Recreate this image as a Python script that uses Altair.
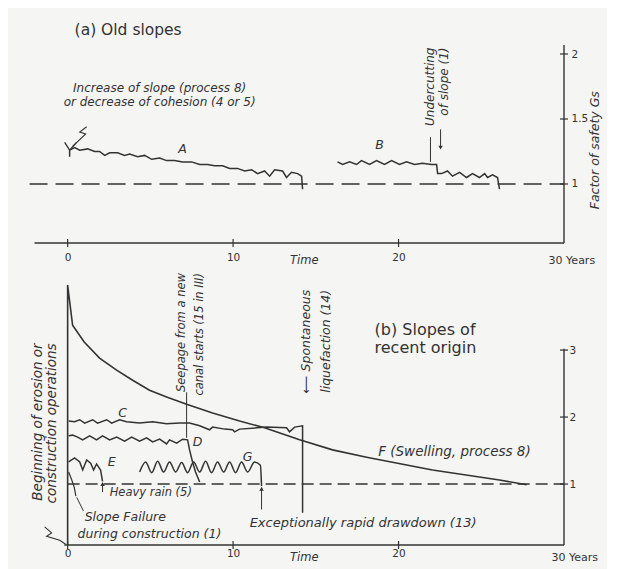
import altair as alt
import pandas as pd

INK = "#333333"
BG = "#f5f5f3"
FONT = "DejaVu Sans"

# ---------------- data: (a) old slopes ----------------
A_T = [0.12, 0.12, 0.42, 0.73, 1.21, 1.63, 1.93, 2.24, 2.54, 3.02, 3.44, 3.75, 4.23, 4.65, 5.08,
       5.56, 5.98, 6.47, 6.95, 7.49, 7.98, 8.46, 8.88, 9.37, 9.79, 10.27, 10.70, 11.12, 11.48, 11.90,
       12.21, 12.51, 12.99, 13.23, 13.53, 13.90, 14.14, 14.20]
A_V = [1.21, 1.26, 1.28, 1.26, 1.27, 1.25, 1.25, 1.22, 1.24, 1.24, 1.22, 1.23, 1.21, 1.22, 1.19,
       1.20, 1.18, 1.18, 1.17, 1.17, 1.15, 1.15, 1.14, 1.14, 1.12, 1.12, 1.10, 1.11, 1.08, 1.10,
       1.06, 1.11, 1.10, 1.05, 1.09, 1.08, 1.06, 0.96]
B_T = [16.31, 16.62, 17.04, 17.46, 17.76, 18.25, 18.67, 19.15, 19.58, 20.06, 20.48, 20.97, 21.45, 21.99,
       22.30, 22.36, 22.60, 22.96, 23.26, 23.69, 24.11, 24.47, 24.89, 25.20, 25.38, 25.68, 25.98, 26.10]
B_V = [1.17, 1.15, 1.17, 1.15, 1.18, 1.15, 1.18, 1.15, 1.18, 1.15, 1.17, 1.15, 1.16, 1.15,
       1.15, 1.08, 1.08, 1.10, 1.06, 1.09, 1.05, 1.08, 1.05, 1.08, 1.05, 1.07, 1.05, 0.96]
Y_T = [-0.18, 0.12, 0.54]          # arrow head at start of A
Y_V = [1.32, 1.26, 1.32]
Z_T = [1.15, 0.73, 1.09, 0.30]     # zig-zag leader
Z_V = [1.44, 1.40, 1.385, 1.29]
TOP_YTICKS = [1, 1.5, 2]
XTICKS = [0, 10, 20]
TOP_DOMAIN = [0.546, 2.277]

# ---------------- data: (b) slopes of recent origin ----------------
F_T = [0.0, 0.0, 0.30, 1.00, 1.93, 2.96, 3.93, 4.95, 5.98, 7.19, 8.76, 10.39, 11.90, 14.02, 16.01,
       18.07, 22.05, 26.10, 27.74]
F_V = [0.09, 3.97, 3.37, 3.12, 2.88, 2.70, 2.55, 2.40, 2.30, 2.19, 2.06, 1.94, 1.84, 1.66, 1.51,
       1.40, 1.21, 1.06, 0.99]
C_T = [0.06, 0.42, 0.73, 1.03, 1.51, 1.81, 2.36, 2.66, 3.14, 3.56, 4.35, 5.14, 5.98, 6.77, 7.37,
       7.98, 8.58, 8.76, 9.49, 9.97, 10.09, 10.39, 12.02, 13.23, 13.41, 13.72, 14.20, 14.20]
C_V = [1.94, 1.93, 1.96, 1.91, 1.96, 1.91, 1.96, 1.91, 1.96, 1.93, 1.91, 1.93, 1.90, 1.91, 1.91,
       1.87, 1.81, 1.85, 1.82, 1.81, 1.78, 1.82, 1.85, 1.84, 1.78, 1.85, 1.87, 0.57]
D_T = [0.06, 0.30, 0.60, 0.91, 1.33, 1.75, 2.11, 2.54, 2.96, 3.44, 3.87, 4.35, 4.77, 5.14, 5.56,
       5.98, 6.16, 6.59, 6.95, 7.25, 7.37, 7.55, 7.73, 7.98]
D_V = [1.72, 1.73, 1.70, 1.66, 1.72, 1.66, 1.72, 1.66, 1.70, 1.64, 1.70, 1.64, 1.69, 1.63, 1.67,
       1.60, 1.66, 1.61, 1.67, 1.66, 1.51, 1.33, 1.18, 1.03]
E_T = [0.06, 0.42, 0.73, 0.91, 1.15, 1.39, 1.57, 1.75, 1.99, 2.11]
E_V = [1.33, 1.39, 1.33, 1.21, 1.36, 1.31, 1.21, 1.30, 1.21, 1.04]
G_T = [4.35, 4.71, 5.08, 5.44, 5.80, 6.16, 6.53, 6.89, 7.25, 7.61, 7.98, 8.34, 8.70, 9.06, 9.43,
       9.79, 10.15, 10.51, 10.88, 11.30, 11.65, 11.72]
G_V = [1.18, 1.33, 1.17, 1.34, 1.18, 1.33, 1.18, 1.32, 1.17, 1.33, 1.18, 1.34, 1.17, 1.33, 1.18,
       1.33, 1.17, 1.33, 1.18, 1.33, 1.28, 0.97]
SF_T = [0.06, 0.25, 0.40, 0.50]    # slope failure during construction
SF_V = [1.18, 1.06, 0.95, 0.82]
SQ_T = [-1.39, -0.97, -1.27, -0.48, -0.12]   # squiggle leader bottom-left
SQ_V = [0.36, 0.27, 0.22, 0.16, 0.10]
BOT_YTICKS = [1, 2, 3]
BOT_DOMAIN = [0.09, 4.27]
X_DOMAIN = [-3, 30]


def xenc(pad):
    return alt.X("t:Q", scale=alt.Scale(domain=X_DOMAIN, nice=False, zero=False),
                 axis=alt.Axis(values=XTICKS, domain=False, ticks=False, tickSize=0, grid=False,
                               title=None, labelPadding=pad, labelFont=FONT, labelFontSize=10.5,
                               labelColor=INK))


def yenc(domain, values, pad):
    return alt.Y("v:Q", scale=alt.Scale(domain=domain, nice=False, zero=False),
                 axis=alt.Axis(orient="right", values=values, format="~g", domain=False, ticks=False,
                               tickSize=0, grid=False, title=None, labelPadding=pad, labelFont=FONT,
                               labelFontSize=10.5, labelColor=INK, labelBaseline="middle"))


def line(ts, vs, X, Y, width=1.5, interp="linear"):
    df = pd.DataFrame({"t": ts, "v": vs, "i": list(range(len(ts)))})
    return alt.Chart(df).mark_line(color=INK, strokeWidth=width, interpolate=interp).encode(
        x=X, y=Y, order="i:Q")


def rules(rows, X, Y, width=1.4, dash=None):
    df = pd.DataFrame(rows, columns=["t", "t2", "v", "v2"])
    kw = dict(color=INK, strokeWidth=width)
    if dash:
        kw["strokeDash"] = dash
    return alt.Chart(df).mark_rule(**kw).encode(x=X, x2="t2:Q", y=Y, y2="v2:Q")


def points(ts, vs, X, Y, shape, size, filled=False, width=1.2):
    df = pd.DataFrame({"t": ts, "v": vs})
    return alt.Chart(df).mark_point(shape=shape, size=size, filled=filled, color=INK,
                                    strokeWidth=width, opacity=1).encode(x=X, y=Y)


def texts(rows, X, Y, size=11, italic=True, align="center", angle=0, lh=None, baseline="middle"):
    df = pd.DataFrame(rows, columns=["t", "v", "label"])
    kw = dict(font=FONT, fontSize=size, color=INK, align=align, baseline=baseline, lineBreak="\n")
    if italic:
        kw["fontStyle"] = "italic"
    if angle:
        kw["angle"] = angle
    if lh:
        kw["lineHeight"] = lh
    return alt.Chart(df).mark_text(**kw).encode(x=X, y=Y, text="label:N")


VTICK = "M0,-1L0,1"
HTICK = "M-1,0L1,0"

# ---------------- top panel ----------------
Xt = xenc(9)
Yt = yenc(TOP_DOMAIN, TOP_YTICKS, 7)
top_layers = [
    rules([[-2.3, 30, 1, 1]], Xt, Yt, width=1.4, dash=[18, 8]),
    rules([[-2.0, 30, TOP_DOMAIN[0], TOP_DOMAIN[0]]], Xt, Yt, width=1.6),
    rules([[30, 30, TOP_DOMAIN[0], 2.07]], Xt, Yt, width=1.4),
    points(XTICKS, [TOP_DOMAIN[0]] * 3, Xt, Yt, VTICK, 64),
    points([30] * 3, TOP_YTICKS, Xt, Yt, HTICK, 64),
    line(A_T, A_V, Xt, Yt),
    line(B_T, B_V, Xt, Yt),
    line(Y_T, Y_V, Xt, Yt, width=1.3),
    line(Z_T, Z_V, Xt, Yt, width=1.1),
    rules([[21.93, 21.93, 1.36, 1.17], [22.54, 22.54, 1.42, 1.28]], Xt, Yt, width=1.0),
    points([22.54], [1.28], Xt, Yt, "triangle-down", 20, filled=True),
    texts([[0.42, 2.185, "(a)  Old  slopes"]], Xt, Yt, size=15.5, italic=False, align="left"),
    texts([[5.56, 1.738, "Increase of slope (process 8)"],
           [5.56, 1.631, "or decrease of cohesion (4 or 5)"]], Xt, Yt, size=12),
    texts([[6.95, 1.27, "A"], [18.85, 1.30, "B"]], Xt, Yt, size=12.5),
    texts([[14.3, 0.41, "Time"]], Xt, Yt, size=11.5),
    texts([[29.07, 0.41, "30 Years"]], Xt, Yt, size=11, italic=False, align="left"),
    texts([[21.9, 2.05, "Undercutting\nof slope (1)"]], Xt, Yt, size=12, align="right",
          angle=270, lh=14),
    texts([[31.9, 1.26, "Factor of safety Gs"]], Xt, Yt, size=12.5, angle=270),
]
top = alt.layer(*top_layers).properties(width=546, height=225)

# ---------------- bottom panel ----------------
Xb = xenc(3)
Yb = yenc(BOT_DOMAIN, BOT_YTICKS, 5)
bot_layers = [
    rules([[0, 30, 1, 1]], Xb, Yb, width=1.4, dash=[12, 6]),
    rules([[-0.2, 30, BOT_DOMAIN[0], BOT_DOMAIN[0]]], Xb, Yb, width=1.6),
    rules([[30, 30, BOT_DOMAIN[0], 3.02]], Xb, Yb, width=1.4),
    points(XTICKS, [BOT_DOMAIN[0]] * 3, Xb, Yb, VTICK, 64),
    points([30] * 3, BOT_YTICKS, Xb, Yb, HTICK, 64),
    line(F_T, F_V, Xb, Yb, width=1.6),
    line(C_T, C_V, Xb, Yb),
    line(D_T, D_V, Xb, Yb),
    line(E_T, E_V, Xb, Yb),
    line(G_T, G_V, Xb, Yb, interp="monotone"),
    line(SF_T, SF_V, Xb, Yb, width=1.2),
    line(SQ_T, SQ_V, Xb, Yb, width=1.1),
    rules([[0.55, 0.95, 0.80, 0.60], [7.19, 7.19, 2.37, 1.69], [2.11, 2.11, 0.88, 1.00],
           [11.72, 11.72, 0.62, 0.92]], Xb, Yb, width=1.0),
    points([2.11, 11.72], [1.00, 0.93], Xb, Yb, "triangle-up", 20, filled=True),
    texts([[18.55, 3.30, "(b) Slopes of"], [18.55, 3.03, "recent origin"]], Xb, Yb, size=16,
          italic=False, align="left"),
    texts([[23.38, 1.48, "F  (Swelling, process 8)"]], Xb, Yb, size=13.5),
    texts([[3.32, 2.06, "C"], [7.85, 1.63, "D"], [2.66, 1.33, "E"], [10.88, 1.40, "G"]], Xb, Yb,
          size=12.5),
    texts([[2.54, 0.87, "Heavy rain (5)"]], Xb, Yb, size=11.5, align="left"),
    texts([[1.03, 0.51, "Slope Failure"], [0.60, 0.25, "during construction (1)"]], Xb, Yb,
          size=12.5, align="left"),
    texts([[11.0, 0.42, "Exceptionally rapid drawdown (13)"]], Xb, Yb, size=13, align="left"),
    texts([[14.3, -0.10, "Time"]], Xb, Yb, size=11.5),
    texts([[29.25, -0.10, "30 Years"]], Xb, Yb, size=11, italic=False, align="left"),
    texts([[-1.8, 3.10, "Beginning of erosion or\nconstruction operations"]], Xb, Yb, size=13.5,
          align="right", angle=270, lh=14),
    texts([[6.9, 4.15, "Seepage from a new\ncanal starts (15 in III)"]], Xb, Yb, size=11.5,
          align="right", angle=270, lh=18),
    texts([[14.4, 3.90, "\u27f5 Spontaneous\nliquefaction (14)"]], Xb, Yb, size=12.5,
          align="right", angle=270, lh=20),
]
bottom = alt.layer(*bot_layers).properties(width=546, height=280)

chart = alt.vconcat(top, bottom, spacing=22, bounds="flush").properties(
    padding={"left": 10, "top": 10, "right": 5, "bottom": 5},
    background=BG,
).configure_view(stroke=None)

chart.save("out.html", embed_options={"renderer": "svg", "actions": False})
